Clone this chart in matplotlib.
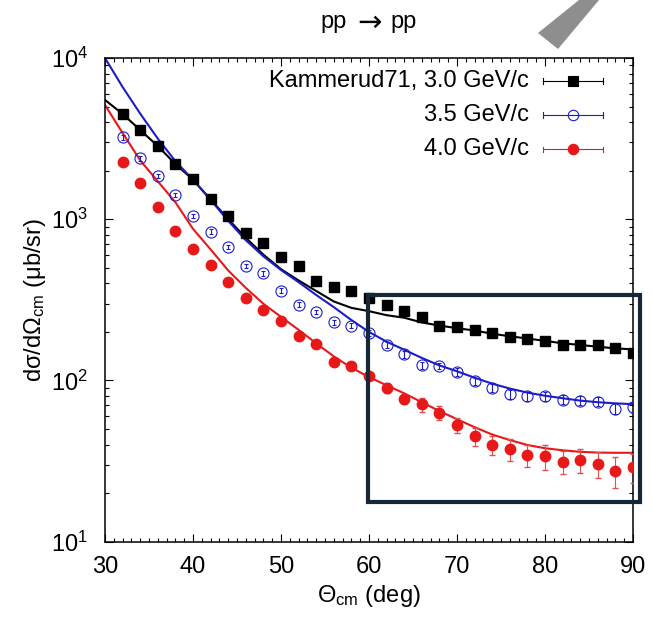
import numpy as np
import matplotlib
matplotlib.use("Agg")
import matplotlib.pyplot as plt
from matplotlib.patches import Polygon, Rectangle
from matplotlib.ticker import MultipleLocator, LogLocator

plt.rcParams["font.family"] = ["Liberation Sans", "DejaVu Sans"]
plt.rcParams["mathtext.fontset"] = "custom"
plt.rcParams["mathtext.rm"] = "Liberation Sans"
plt.rcParams["mathtext.it"] = "Liberation Sans:italic"
plt.rcParams["mathtext.sf"] = "Liberation Sans"

# data points (deg, ub/sr)
angles = [32, 34, 36, 38, 40, 42, 44, 46, 48, 50, 52, 54, 56, 58, 60,
          62, 64, 66, 68, 70, 72, 74, 76, 78, 80, 82, 84, 86, 88, 90]
p30 = [4498, 3573, 2844, 2198, 1770, 1327, 1047, 824, 714, 581, 515, 416, 380, 357, 324,
       292, 271, 246, 219, 216, 206, 197, 187, 181, 175, 167, 167, 165, 159, 148]
p35 = [3222, 2388, 1854, 1413, 1047, 836, 675, 513, 461, 361, 295, 266, 230, 219, 197,
       167, 145, 124, 123, 113, 99, 90, 82, 80, 80, 76, 75, 74, 67, 68]
p40 = [2275, 1683, 1197, 845, 653, 520, 406, 323, 274, 235, 188, 169, 131, 123, 106,
       90, 77, 71, 63, 53, 45, 40, 37.6, 34.5, 34, 31.4, 32.2, 30.4, 27.5, 29]
e30 = [90, 70, 55, 45, 35, 27, 21, 17, 14, 12, 10, 8, 8, 7, 7,
       6, 6, 5, 5, 5, 5, 5, 5, 5, 5, 5, 5, 5, 5, 5]
e35 = [110, 80, 60, 45, 35, 28, 22, 17, 15, 12, 10, 9, 8, 8, 8,
       7, 7, 6, 6, 6, 5, 5, 5, 5, 5, 5, 5, 5, 5, 5]
e40 = [70, 50, 36, 26, 20, 16, 13, 10, 9, 8, 7, 7, 6, 6, 6,
       6, 6, 7, 6, 5.5, 5.5, 5.5, 6, 5.5, 6, 5, 5.5, 5.5, 6, 6]

# model curves
curve_angles = [30, 32, 34, 36, 38, 40, 42, 44, 46, 48, 50, 52, 54, 56, 58, 60,
                62, 64, 66, 68, 70, 72, 74, 76, 78, 80, 82, 84, 86, 88, 90]
c30 = [5495, 4498, 3573, 2844, 2198, 1758, 1327, 1000, 767, 603, 490, 417, 359, 309, 282, 269,
       254, 245, 229, 219, 211, 204, 195, 188, 182, 176, 170, 166, 162, 158, 156]
c35 = [10000, 6607, 4519, 3162, 2291, 1758, 1318, 977, 741, 589, 484, 407, 339, 285, 237, 200,
       174, 155, 138, 124, 114, 104, 95.5, 89.1, 84.1, 80.4, 77.6, 75.0, 73.3, 72.1, 71.3]
c40 = [5105, 3428, 2317, 1718, 1274, 871, 650, 481, 375, 299, 248, 206, 170, 141, 120, 105,
       93.3, 83.2, 73.3, 64.6, 57.5, 51.3, 46.2, 42.7, 39.8, 38.0, 36.9, 36.1, 35.7, 35.6, 35.6]

labels = ["Kammerud71, 3.0 GeV/c", "3.5 GeV/c", "4.0 GeV/c"]

W, H = 653, 626
FS = 17
fig = plt.figure(figsize=(W / 100, H / 100), dpi=100)
ax = fig.add_axes([105 / W, 1 - 541.7 / H, 528 / W, 483.7 / H])

blk = "black"
blu = "#1c1cc8"
red = "#e81818"

ax.plot(curve_angles, c30, color=blk, lw=1.5, zorder=2)
ax.plot(curve_angles, c35, color=blu, lw=1.5, zorder=2)
ax.plot(curve_angles, c40, color=red, lw=1.5, zorder=2)

ax.errorbar(angles, p30, yerr=e30, fmt="s", color=blk, ms=7, elinewidth=0.8,
            capsize=1.5, zorder=3)
ax.errorbar(angles, p35, yerr=e35, fmt="o", color=blu, mfc="none", ms=8, mew=0.8,
            elinewidth=0.8, capsize=1.5, zorder=3)
ax.errorbar(angles, p40, yerr=e40, fmt="o", color=red, ms=7.5, elinewidth=0.8,
            ecolor="#e05050", capsize=2, zorder=3)

ax.set_yscale("log")
ax.set_xlim(30, 90)
ax.set_ylim(10, 1e4)
ax.xaxis.set_major_locator(MultipleLocator(10))
ax.xaxis.set_minor_locator(MultipleLocator(1))
ax.yaxis.set_major_locator(LogLocator(base=10))
ax.yaxis.set_minor_locator(LogLocator(base=10, subs=np.arange(2, 10)))
ax.tick_params(which="both", direction="in", top=True, right=True, labelsize=FS, width=0.8)
ax.tick_params(which="major", length=6)
ax.tick_params(which="minor", length=3)
ax.tick_params(axis="x", which="major", pad=10)
ax.tick_params(axis="y", which="major", pad=12)
for s in ax.spines.values():
    s.set_linewidth(1.1)

ax.set_xlabel(r"$\Theta_{\mathrm{cm}}$ (deg)", fontsize=FS, labelpad=4)
ax.set_ylabel("d\u03c3/d\u03a9$_{\\mathrm{cm}}$ (\u03bcb/sr)", fontsize=FS, labelpad=2)

# title: arrow taken from DejaVu for a longer glyph
fig.text(347 / W, 1 - 28 / H, "pp", ha="right", va="baseline", fontsize=FS)
fig.text(369.5 / W, 1 - 23 / H, "\u2192", ha="center", va="center", fontsize=21,
         family="DejaVu Sans")
fig.text(390 / W, 1 - 28 / H, "pp", ha="left", va="baseline", fontsize=FS)

# gnuplot-like key: text right aligned, sample to the right
rows = [0.953, 0.882, 0.811]
styles = [(blk, "s", blk), (blu, "o", "none"), (red, "o", red)]
for lab, yy, (col, mk, fc) in zip(labels, rows, styles):
    ax.text(0.803, yy, lab, transform=ax.transAxes, ha="right", va="center", fontsize=FS)
    ax.plot([0.830, 0.943], [yy, yy], transform=ax.transAxes, color=col, lw=0.8, clip_on=False)
    for xe in (0.830, 0.943):
        ax.plot([xe, xe], [yy - 0.006, yy + 0.006], transform=ax.transAxes, color=col,
                lw=0.8, clip_on=False)
    ax.plot([0.886], [yy], transform=ax.transAxes, marker=mk, color=col, mfc=fc,
            ms=7 if mk == "s" else 7.5, mew=0.8, clip_on=False)


def px(x, y):
    return (x / W, 1 - y / H)


# overlay annotations on the figure
fig.patches.append(Polygon([px(538, 33), px(558, 49), px(599, 0), px(579, 0)], closed=True,
                           facecolor="#8e8e8e", edgecolor="none", transform=fig.transFigure))
x0, y0 = px(368, 502)
x1, y1 = px(640, 294.5)
fig.patches.append(Rectangle((x0, y0), x1 - x0, y1 - y0, fill=False, edgecolor="#14283a",
                             lw=3, transform=fig.transFigure, zorder=5))

fig.savefig("out.png", dpi=100)
